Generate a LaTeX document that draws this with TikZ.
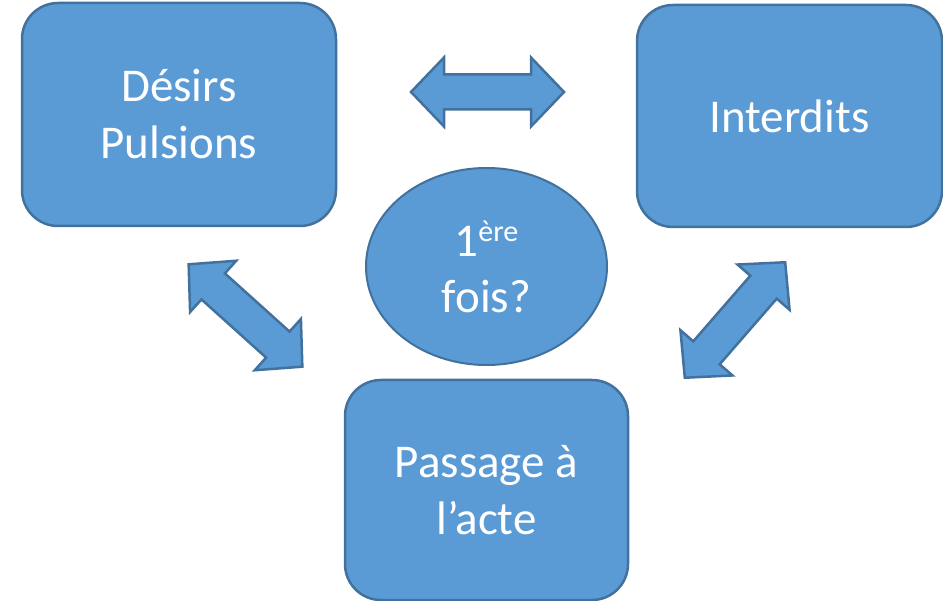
\documentclass[tikz,border=0pt]{standalone}
\usepackage{fontspec}
\setmainfont{Carlito}
\usepackage{tikz}
\usetikzlibrary{shapes.geometric}

\definecolor{boxfill}{HTML}{5B9BD5}
\definecolor{boxline}{HTML}{41719C}

\begin{document}
\begin{tikzpicture}
	[%%%%%%%%%%%%%%%%%%%%%%%%%%%%%%
	x=1pt,y=-1pt,
	box/.style={rectangle,rounded corners=36pt,draw=boxline,fill=boxfill,line width=2.5pt,
		text=white,align=center,font=\fontsize{47}{57}\selectfont},
	bubble/.style={ellipse,draw=boxline,fill=boxfill,line width=2pt,
		text=white,align=center,font=\fontsize{47}{56}\selectfont},
	arrowshape/.style={draw=boxline,fill=boxfill,line width=2.5pt,line join=miter},
	dblarrow/.pic={
		\draw[arrowshape] (-76.5,0) -- (-43.5,-34.5) -- (-43.5,-17.5) -- (43.5,-17.5)
			-- (43.5,-34.5) -- (76.5,0) -- (43.5,34.5) -- (43.5,17.5)
			-- (-43.5,17.5) -- (-43.5,34.5) -- cycle;
	},
	]%%%%%%%%%%%%%%%%%%%%%%%%%%%%%%
	
	\useasboundingbox (0,0) rectangle (943,601);
	
	\node[box,minimum width=314pt,minimum height=223pt] (desirs) at (179,114.5) {Désirs\\Pulsions};
	\node[box,minimum width=305pt,minimum height=222pt] (interdits) at (789.5,116) {Interdits};
	\node[box,minimum width=283pt,minimum height=220pt] (passage) at (486.5,490) {Passage à\\l’acte};
	\node[bubble,minimum width=241pt,minimum height=197pt] (fois) at (486.5,266.5)
		{1\raisebox{15pt}{\fontsize{30}{34}\selectfont ère}\\fois?};
	
	\pic (arrowtop) at (487.5,92) {dblarrow};
	\pic[rotate=-42] (arrowleft) at (245.5,315.5) {dblarrow};
	\pic[rotate=49] (arrowright) at (735,320) {dblarrow};
	
\end{tikzpicture}
\end{document}
